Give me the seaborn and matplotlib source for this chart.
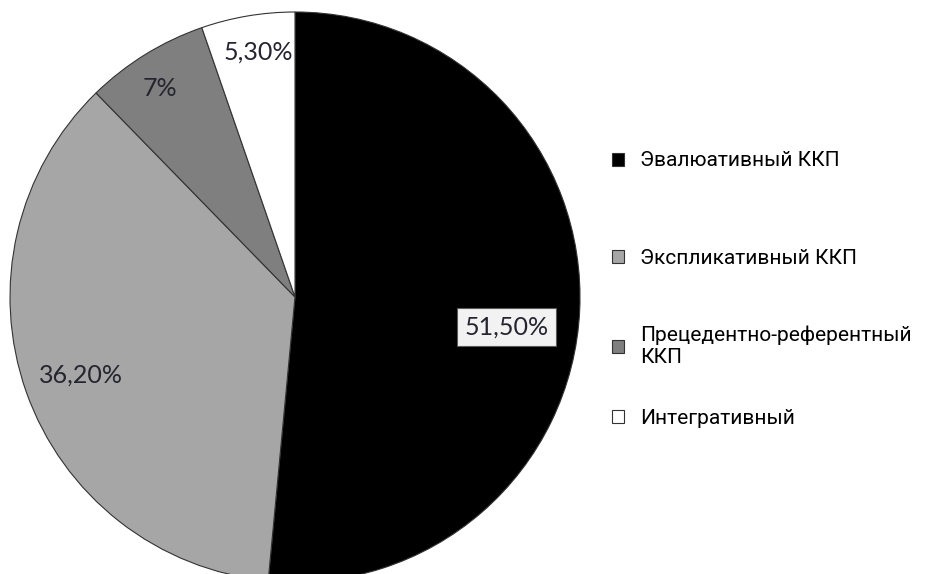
import numpy as np
import seaborn as sns
import matplotlib.pyplot as plt

sns.set_theme(style="white")
plt.rcParams['font.family'] = ['Roboto', 'Liberation Sans', 'DejaVu Sans']

categories = ['Эвалюативный ККП', 'Экспликативный ККП',
              'Прецедентно-референтный\nККП', 'Интегративный']
shares = [51.5, 36.2, 7.0, 5.3]
pct_labels = ['51,50%', '36,20%', '7%', '5,30%']
colors = ['#000000', '#a6a6a6', '#7f7f7f', '#ffffff']

fig = plt.figure(figsize=(9.25, 5.74), dpi=100)
# pie axes placed in pixels (centre ~ (295, 297), radius ~285)
ax = fig.add_axes([10 / 925, (574 - 582) / 574, 570 / 925, 570 / 574])
wedges, _ = ax.pie(shares, colors=colors, startangle=90, counterclock=False,
                   radius=1.0,
                   wedgeprops=dict(edgecolor='#333333', linewidth=0.8))
ax.set_xlim(-1, 1)
ax.set_ylim(-1, 1)
ax.set_aspect('equal')
ax.axis('off')

# percent labels at per-slice distances from the centre
label_dist = [0.75, 0.80, 0.87, 0.87]
label_shift = [-5.5, 0.5, 1.2, -1.0]
for w, txt, d, sh in zip(wedges, pct_labels, label_dist, label_shift):
    ang = np.deg2rad((w.theta1 + w.theta2) / 2 + sh)
    x, y = d * np.cos(ang), d * np.sin(ang)
    kw = {}
    if txt == '51,50%':
        kw['bbox'] = dict(boxstyle='square,pad=0.3', facecolor='#f2f2f2',
                          edgecolor='#595959', linewidth=0.8)
    ax.text(x, y, txt, ha='center', va='center', fontsize=18,
            family=['Lato', 'DejaVu Sans'], color='#252530', **kw)

# legend entries are spaced unevenly in the original, so one legend per entry
legend_y = [161, 258, 346, 418]
for w, lab, ypix in zip(wedges, categories, legend_y):
    leg = fig.legend([w], [lab], loc='center left',
                     bbox_to_anchor=(612 / 925, 1 - ypix / 574),
                     frameon=False, fontsize=15, borderpad=0, borderaxespad=0,
                     handlelength=0.58, handleheight=0.58, handletextpad=0.75)
    for t in leg.get_texts():
        t.set_linespacing(1.2)
        t.set_color('#000000')

fig.savefig('out.png', dpi=100)
